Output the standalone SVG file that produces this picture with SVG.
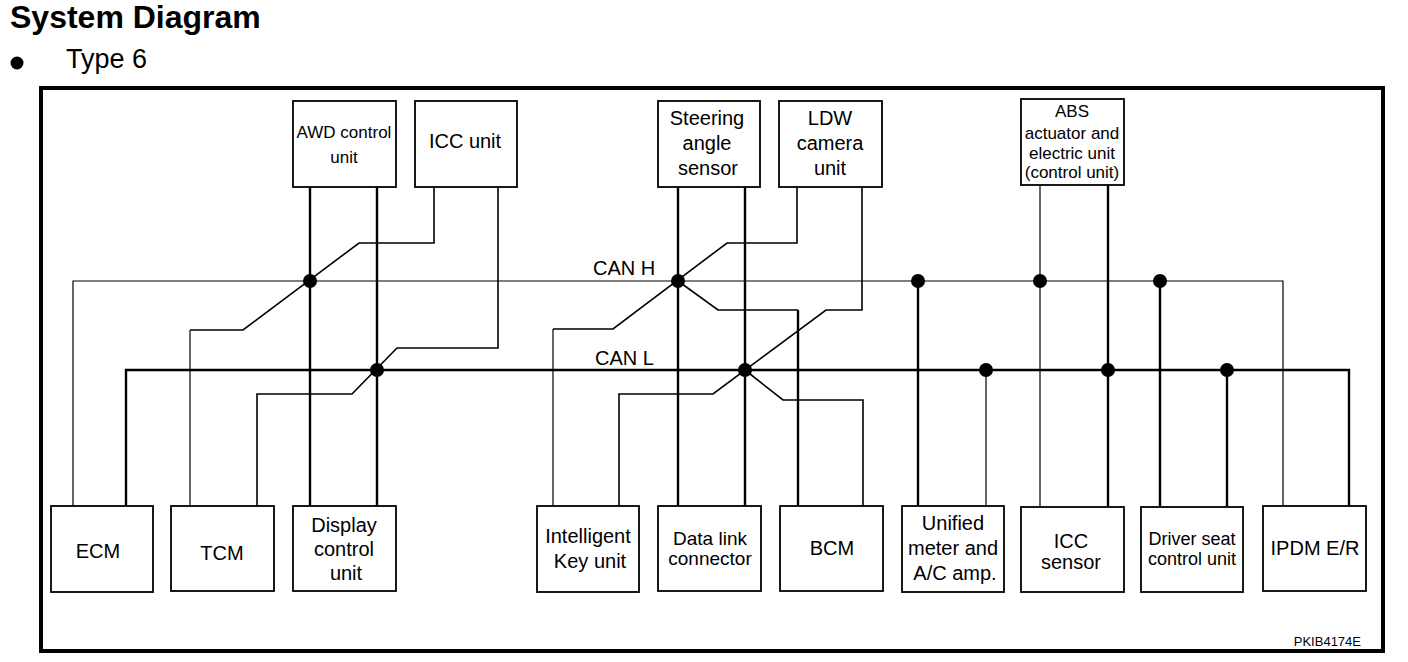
<svg xmlns="http://www.w3.org/2000/svg" width="1408" height="662" viewBox="0 0 1408 662">
<style>
text{font-family:"Liberation Sans",Arial,sans-serif;fill:#000;text-anchor:middle}
.box{fill:#fff;stroke:#000;stroke-width:1.8}
.thin{fill:none;stroke:#000;stroke-width:1.2}
.med{fill:none;stroke:#000;stroke-width:1.6}
.thick{fill:none;stroke:#000;stroke-width:2.4}
.dot{fill:#000}
.t20{font-size:20px}
.t17{font-size:17px}
</style>
<rect width="1408" height="662" fill="#fff"/>
<text x="10" y="28" style="font-size:32px;font-weight:bold;text-anchor:start">System Diagram</text>
<circle cx="17" cy="63" r="6.5" fill="#000"/>
<text x="66" y="68" style="font-size:27px;text-anchor:start">Type 6</text>
<rect x="41" y="88" width="1342" height="563" fill="none" stroke="#000" stroke-width="4"/>

<g id="connectors">
  <path class="thin" d="M73,506 V281 H1283 V506"/>
  <path class="thick" d="M126,506 V370 H1349 V506"/>
  <path class="thick" d="M310,187 V506 M377,187 V506"/>
  <path class="med" d="M434,187 V243 H359 L243,330 H190"/>
  <path class="thin" d="M190,330 V506"/>
  <path class="med" d="M498,187 V348 H397 L352,394 H257 V506"/>
  <path class="thick" d="M678,187 V506 M745,187 V506"/>
  <path class="med" d="M797,187 V243 H727 L613,329 H553"/>
  <path class="thin" d="M553,329 V506"/>
  <path class="med" d="M862,187 V310 H826 L713,394 H619 V506"/>
  <path class="med" d="M678,281 L718,310 H798"/>
  <path class="thick" d="M798,310 V506"/>
  <path class="med" d="M745,370 L783,400 H863 V506"/>
  <path class="thick" d="M918,281 V506"/>
  <path class="thin" d="M986,370 V506"/>
  <path class="thin" d="M1040,185 V506"/>
  <path class="thick" d="M1108,185 V506"/>
  <path class="thick" d="M1160,281 V506 M1227,370 V506"/>
  <circle class="dot" cx="310" cy="281" r="7"/>
  <circle class="dot" cx="377" cy="370" r="7"/>
  <circle class="dot" cx="678" cy="281" r="7"/>
  <circle class="dot" cx="745" cy="370" r="7"/>
  <circle class="dot" cx="918" cy="281" r="7"/>
  <circle class="dot" cx="986" cy="370" r="7"/>
  <circle class="dot" cx="1040" cy="281" r="7"/>
  <circle class="dot" cx="1108" cy="370" r="7"/>
  <circle class="dot" cx="1160" cy="281" r="7"/>
  <circle class="dot" cx="1227" cy="370" r="7"/>
  <text class="t20" x="593" y="275" style="text-anchor:start">CAN H</text>
  <text class="t20" x="595" y="365" style="text-anchor:start">CAN L</text>
</g>

<g id="awd">
  <rect class="box" x="293" y="101" width="103" height="86"/>
  <text class="t17" x="344" y="138">AWD control</text>
  <text class="t17" x="344" y="163">unit</text>
</g>
<g id="icc-unit">
  <rect class="box" x="415" y="101" width="102" height="86"/>
  <text class="t20" x="465" y="148">ICC unit</text>
</g>
<g id="steering">
  <rect class="box" x="658" y="101" width="102" height="86"/>
  <text class="t20" x="707" y="125">Steering</text>
  <text class="t20" x="707" y="150">angle</text>
  <text class="t20" x="708" y="175">sensor</text>
</g>
<g id="ldw">
  <rect class="box" x="779" y="101" width="103" height="86"/>
  <text class="t20" x="830" y="125">LDW</text>
  <text class="t20" x="830" y="150">camera</text>
  <text class="t20" x="830" y="175">unit</text>
</g>
<g id="abs">
  <rect class="box" x="1021" y="99" width="103" height="86"/>
  <text class="t17" x="1072" y="117">ABS</text>
  <text class="t17" x="1072" y="139">actuator and</text>
  <text class="t17" x="1072" y="159">electric unit</text>
  <text class="t17" x="1072" y="178">(control unit)</text>
</g>

<g id="ecm">
  <rect class="box" x="51" y="506" width="102" height="86"/>
  <text class="t20" x="98" y="558">ECM</text>
</g>
<g id="tcm">
  <rect class="box" x="171" y="506" width="103" height="85"/>
  <text class="t20" x="222" y="560">TCM</text>
</g>
<g id="display">
  <rect class="box" x="293" y="506" width="103" height="85"/>
  <text class="t20" x="344" y="532">Display</text>
  <text class="t20" x="344" y="556">control</text>
  <text class="t20" x="346" y="580">unit</text>
</g>
<g id="ikey">
  <rect class="box" x="537" y="506" width="102" height="86"/>
  <text class="t20" x="588" y="543">Intelligent</text>
  <text class="t20" x="590" y="568">Key unit</text>
</g>
<g id="dlc">
  <rect class="box" x="658" y="506" width="103" height="85"/>
  <text x="710" y="545" style="font-size:19px">Data link</text>
  <text x="710" y="565" style="font-size:19px">connector</text>
</g>
<g id="bcm">
  <rect class="box" x="780" y="506" width="103" height="85"/>
  <text class="t20" x="832" y="555">BCM</text>
</g>
<g id="unified">
  <rect class="box" x="902" y="506" width="102" height="86"/>
  <text class="t20" x="953" y="530">Unified</text>
  <text class="t20" x="953" y="555">meter and</text>
  <text class="t20" x="955" y="580">A/C amp.</text>
</g>
<g id="icc-sensor">
  <rect class="box" x="1021" y="507" width="103" height="85"/>
  <text class="t20" x="1071" y="548">ICC</text>
  <text class="t20" x="1071" y="569">sensor</text>
</g>
<g id="driver-seat">
  <rect class="box" x="1141" y="507" width="102" height="85"/>
  <text x="1192" y="545" style="font-size:18px">Driver seat</text>
  <text x="1192" y="565" style="font-size:18px">control unit</text>
</g>
<g id="ipdm">
  <rect class="box" x="1263" y="506" width="103" height="85"/>
  <text class="t20" x="1315" y="555">IPDM E/R</text>
</g>
<text x="1361" y="646" style="font-size:13px;text-anchor:end">PKIB4174E</text>
</svg>
